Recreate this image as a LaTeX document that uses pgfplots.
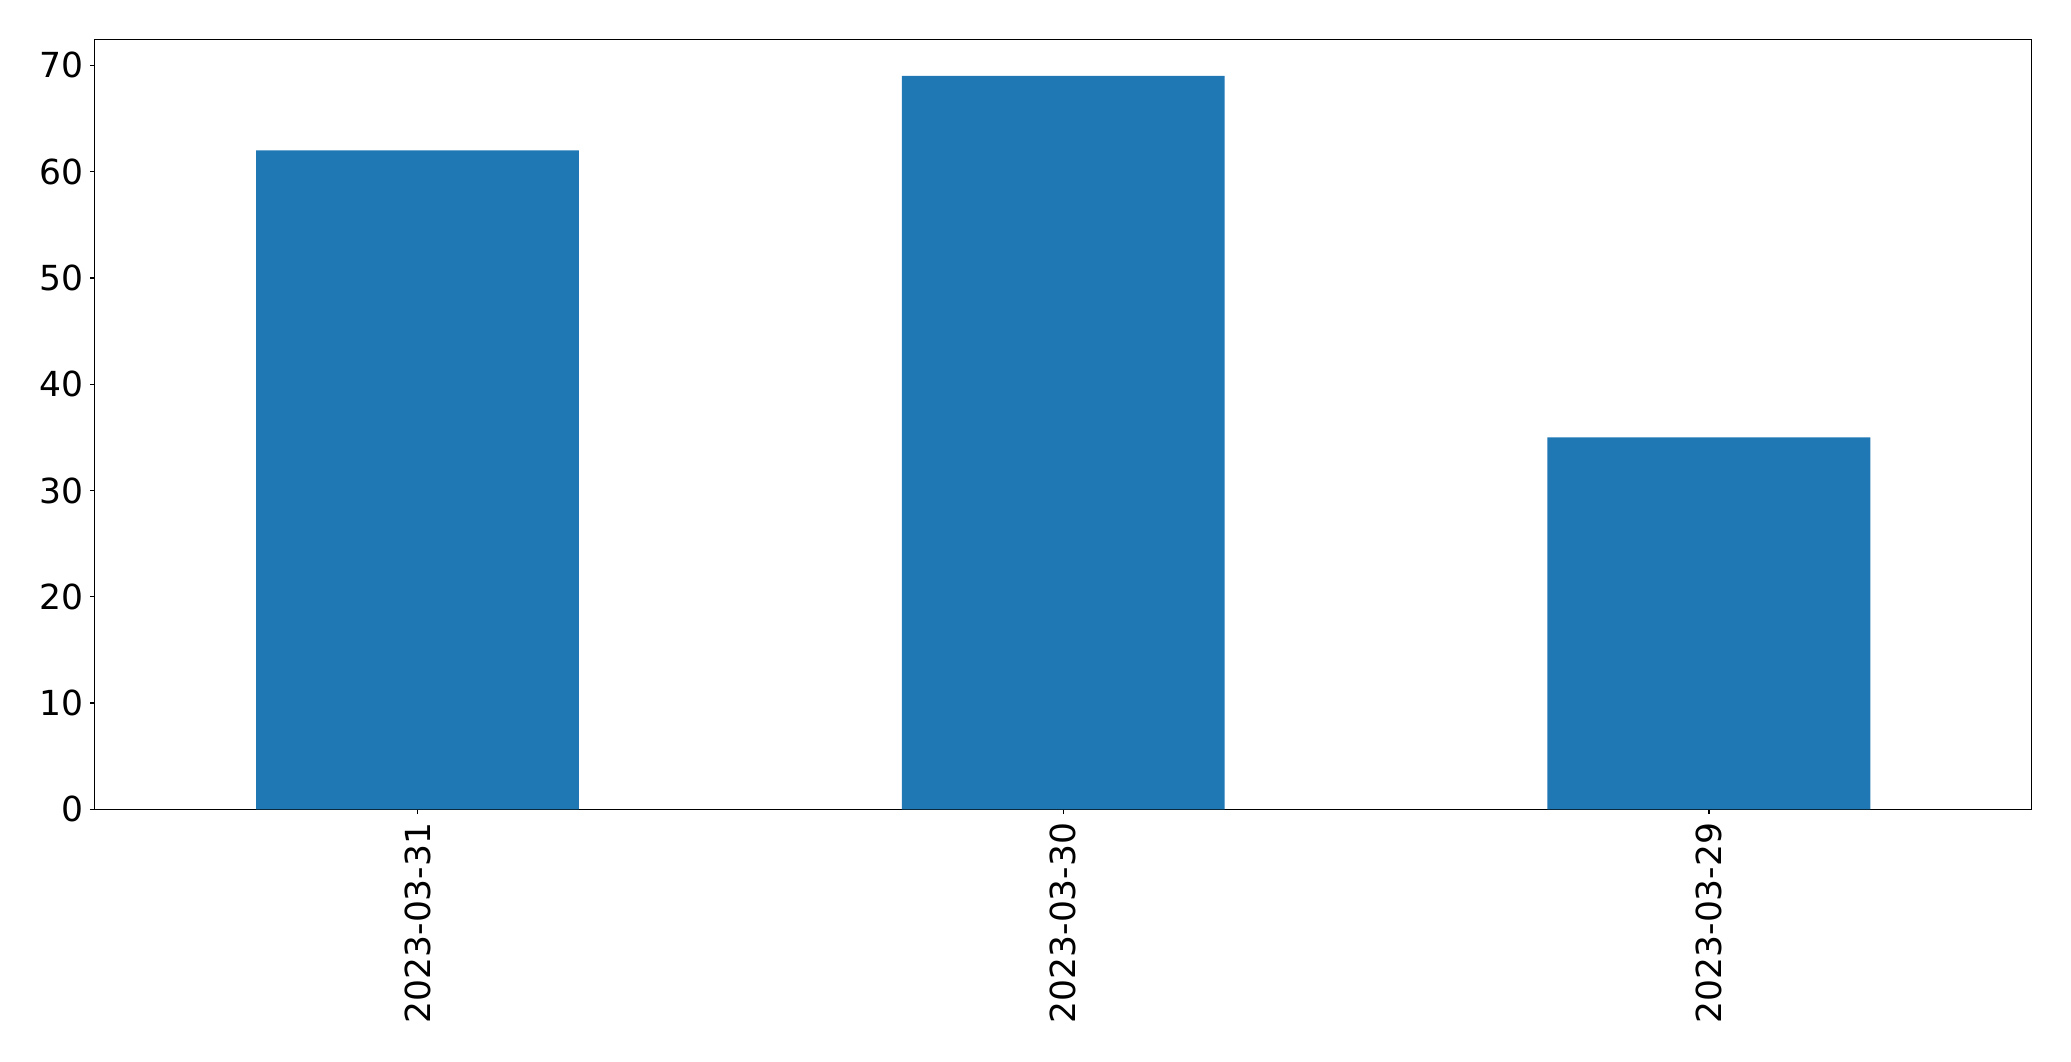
\documentclass[border=0pt]{standalone}
\usepackage{fontspec}
\setmainfont{DejaVu Sans}
\usepackage{pgfplots}
\pgfplotsset{compat=1.18}
\definecolor{mplblue}{HTML}{1F77B4}
\begin{document}
\begin{tikzpicture}
\begin{axis}[
  scale only axis,
  width=1162.2pt, height=462pt,
  xmin=-0.5, xmax=2.5,
  ymin=0, ymax=72.45,
  xtick={0,1,2},
  xticklabels={2023-03-31,2023-03-30,2023-03-29},
  ytick={0,10,20,30,40,50,60,70},
  tick align=outside,
  major tick length=2.8pt,
  tick style={line width=0.8pt, black},
  axis line style={line width=0.8pt, black},
  xtick pos=bottom, ytick pos=left,
  /pgf/number format/assume math mode=true,
  tick label style={font=\fontsize{20.7}{24}\selectfont, inner sep=0pt},
  xticklabel style={rotate=90, anchor=east},
  yticklabel style={anchor=east},
  xticklabel shift=5pt,
  yticklabel shift=3.6pt,
  ybar, bar width=0.5,
]
\addplot[draw=none, fill=mplblue] coordinates {(0,62) (1,69) (2,35)};
\end{axis}
\pgfresetboundingbox
\path ([shift={(-56.8pt,-151pt)}]current axis.south west) rectangle ([shift={(23.6pt,23.6pt)}]current axis.north east);
\end{tikzpicture}
\end{document}
